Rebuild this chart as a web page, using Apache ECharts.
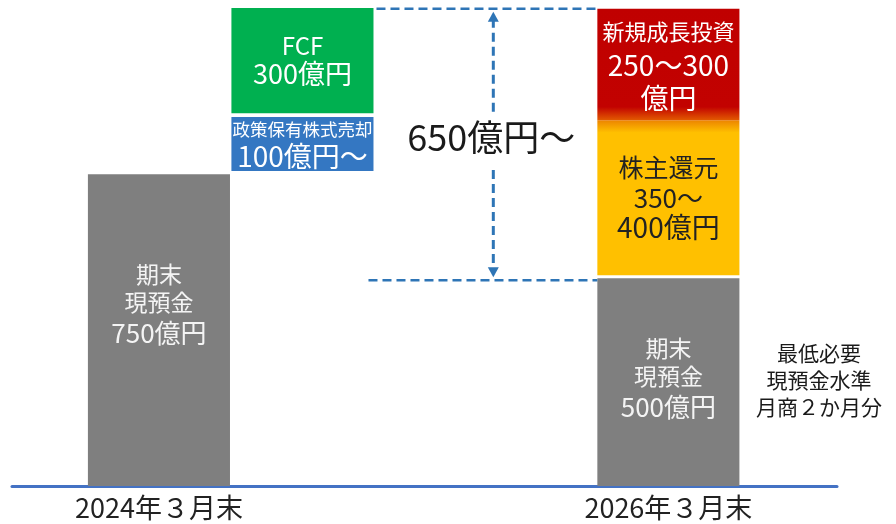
<!DOCTYPE html>
<html><head><meta charset="utf-8">
<script src="https://cdn.jsdelivr.net/npm/echarts@6/dist/echarts.min.js"></script>
<style>html,body{margin:0;padding:0;background:#fff}#c{width:896px;height:524px}</style>
</head><body><div id="c"></div>
<script>
// ---- data ----
const periods = ['2024年３月末', '2026年３月末'];
const columnPos = [0, 1, 3.55];            // column slots on the x scale
const segColumn = [0, 1, 1, 2, 2, 2];       // which column each block belongs to
const segLow  = [0, 758, 897, 0, 507, 880]; // 億円 (as drawn)
const segHigh = [750, 888, 1150, 500, 880, 1148];
const segLines = [
  ['期末', '現預金', '750億円'],
  ['政策保有株式売却', '100億円～'],
  ['FCF', '300億円'],
  ['期末', '現預金', '500億円'],
  ['株主還元', '350～', '400億円'],
  ['新規成長投資', '250～300', '億円']
];
const gapText = '650億円～';
const gapLow = 500, gapHigh = 1148;
const noteLines = ['最低必要', '現預金水準', '月商２か月分'];

// ---- styles ----
const FONT = '"Noto Sans CJK JP", "Noto Sans", sans-serif';
const colWidth = 0.99;
const BLUE = '#2e75b6';
const segFill = [
  '#7f7f7f', '#3477c2', '#00b050', '#7f7f7f',
  new echarts.graphic.LinearGradient(0, 0, 0, 1, [{offset: 0, color: '#ec8400'}, {offset: 0.08, color: '#ffc000'}, {offset: 1, color: '#ffc000'}]),
  new echarts.graphic.LinearGradient(0, 0, 0, 1, [{offset: 0, color: '#c00000'}, {offset: 0.88, color: '#c20200'}, {offset: 1, color: '#e25a00'}])
];
const segTextColor = ['#f4f4f4', '#ffffff', '#ffffff', '#f4f4f4', '#222222', '#ffffff'];
const segFontSizes = [[23, 23, 26], [17.5, 28], [24, 27], [23, 23, 26], [25, 26, 28], [22, 28, 28]];
const segLineHeights = [[27, 29, 32], [24, 30], [26, 30], [27, 29, 32], [30, 30, 30], [34, 34, 32]];
const segLabelShift = [-25, 0, 0, -3, 0, 0];
const arrowX = 2.33;
const noteX = 4.6;

function richText(lines, sizes, lhs, color) {
  const rich = {};
  lines.forEach((l, i) => {
    rich['s' + i] = {fontSize: sizes[i], lineHeight: lhs[i], fill: color, color: color, fontFamily: FONT};
  });
  return {text: lines.map((l, i) => '{s' + i + '|' + l + '}').join('\n'), rich};
}

const segData = segLow.map((lo, i) => [columnPos[segColumn[i]], lo, segHigh[i], i]);

function renderSeg(params, api) {
  const i = api.value(3);
  const x = api.value(0);
  const pTop = api.coord([x, api.value(2)]);
  const pBot = api.coord([x, api.value(1)]);
  const w = api.size([colWidth, 0])[0];
  const t = richText(segLines[i], segFontSizes[i], segLineHeights[i], segTextColor[i]);
  return {
    type: 'group',
    children: [
      {type: 'rect', shape: {x: pTop[0] - w / 2, y: pTop[1], width: w, height: pBot[1] - pTop[1]}, style: {fill: segFill[i]}},
      {type: 'text', x: pTop[0], y: (pTop[1] + pBot[1]) / 2 + segLabelShift[i],
        style: Object.assign({align: 'center', verticalAlign: 'middle', fontFamily: FONT, fill: segTextColor[i]}, t)}
    ]
  };
}

function renderAnno(params, api) {
  const dash = [9, 5];
  const lw = 2.5;
  const xL = api.coord([columnPos[1] + colWidth / 2, 0])[0];
  const xR = api.coord([columnPos[2] - colWidth / 2, 0])[0];
  const yTop = api.coord([0, gapHigh])[1];
  const yBot = api.coord([0, gapLow])[1] + 2;
  const ax = api.coord([arrowX, 0])[0];
  const midY = 137;
  const textGapTop = midY - 25, textGapBot = midY + 33;
  const children = [
    {type: 'line', shape: {x1: xL + 3, y1: yTop, x2: xR, y2: yTop}, style: {stroke: BLUE, lineWidth: lw, lineDash: dash}},
    {type: 'line', shape: {x1: xL - 5, y1: yBot, x2: xR, y2: yBot}, style: {stroke: BLUE, lineWidth: lw, lineDash: dash}},
    {type: 'line', shape: {x1: ax, y1: yTop + 10, x2: ax, y2: textGapTop}, style: {stroke: BLUE, lineWidth: 3, lineDash: dash}},
    {type: 'line', shape: {x1: ax, y1: textGapBot, x2: ax, y2: yBot - 10}, style: {stroke: BLUE, lineWidth: 3, lineDash: dash}},
    {type: 'polygon', shape: {points: [[ax, yTop + 3], [ax - 5.5, yTop + 13], [ax + 5.5, yTop + 13]]}, style: {fill: BLUE}},
    {type: 'polygon', shape: {points: [[ax, yBot - 3], [ax - 5.5, yBot - 13], [ax + 5.5, yBot - 13]]}, style: {fill: BLUE}},
    {type: 'text', x: ax - 2, y: midY, style: {text: gapText, fontSize: 36, fontFamily: FONT, fill: '#1a1a1a', align: 'center', verticalAlign: 'middle'}}
  ];
  const nx = api.coord([noteX, 0])[0];
  const ny = api.coord([0, 254])[1];
  children.push({type: 'text', x: nx, y: ny, style: Object.assign({align: 'center', verticalAlign: 'middle'},
    richText(noteLines, [21, 21, 21], [27, 27, 27], '#1a1a1a'))});
  return {type: 'group', children};
}

const chart = echarts.init(document.getElementById('c'));
chart.setOption({
  animation: false,
  backgroundColor: '#fff',
  grid: {left: 12, right: 59, top: 8, bottom: 38},
  xAxis: {
    type: 'value', min: -1.024, max: 4.725,
    splitLine: {show: false}, axisTick: {show: false},
    axisLine: {onZero: false, lineStyle: {color: '#4472c4', width: 3}},
    axisLabel: {
      customValues: [columnPos[0], columnPos[2]],
      formatter: v => (Math.abs(v - columnPos[0]) < 1e-6 ? periods[0] : periods[1]),
      fontSize: 27, color: '#222', fontFamily: FONT, margin: 8
    }
  },
  yAxis: {type: 'value', min: 0, max: 1150, show: false},
  series: [
    {type: 'custom', renderItem: renderSeg, data: segData, clip: false},
    {type: 'custom', renderItem: renderAnno, data: [[0, 0]], clip: false, silent: true}
  ]
});
</script>
</body></html>
